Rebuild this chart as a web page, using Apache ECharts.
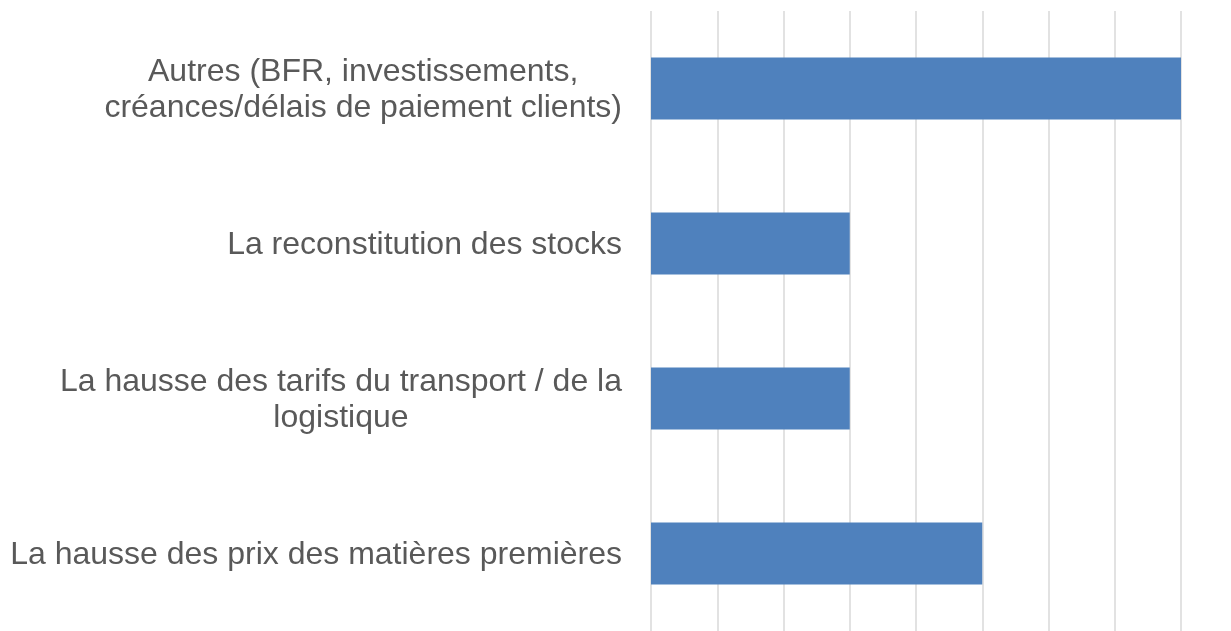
<!DOCTYPE html>
<html>
<head>
<meta charset="utf-8">
<script src="https://cdn.jsdelivr.net/npm/echarts@6/dist/echarts.min.js"></script>
<style>
  html, body { margin: 0; padding: 0; background: #fff; }
  #chart { width: 1231px; height: 631px; }
</style>
</head>
<body>
<div id="chart"></div>
<script>
// categories from bottom to top (category axis on y starts at the bottom)
const categories = [
  "La hausse des prix des matières premières",
  "La hausse des tarifs du transport / de la\nlogistique",
  "La reconstitution des stocks",
  "Autres (BFR, investissements,\ncréances/délais de paiement clients)"
];
const values = [5, 3, 3, 8];

const barColor = "#4f81bd";
const gridColor = "#d9d9d9";
const textColor = "#595959";

const el = echarts.init(document.getElementById("chart"));

const options = {
  animation: false,
  grid: {
    left: 651,
    right: 50,
    top: 11,
    bottom: -5,
    containLabel: false
  },
  xAxis: {
    type: "value",
    min: 0,
    max: 8,
    interval: 1,
    axisLine: { show: false },
    axisTick: { show: false },
    axisLabel: { show: false },
    splitLine: { show: true, lineStyle: { color: gridColor, width: 1.5 } }
  },
  yAxis: {
    type: "category",
    data: categories,
    axisLine: { show: false },
    axisTick: { show: false },
    axisLabel: {
      margin: 29,
      align: "right",
      formatter: function (val) {
        // each line centred within the label block
        return val.split("\n").map(l => "{c|" + l + "}").join("\n");
      },
      rich: {
        c: {
          align: "center",
          fontFamily: "Liberation Sans, Arial, sans-serif",
          fontSize: 32,
          lineHeight: 36,
          color: textColor,
          padding: [4, 0, 0, 0]
        }
      }
    }
  },
  series: [
    {
      type: "bar",
      data: values,
      barWidth: "40%",
      itemStyle: { color: barColor }
    }
  ]
};

el.setOption(options);
</script>
</body>
</html>
